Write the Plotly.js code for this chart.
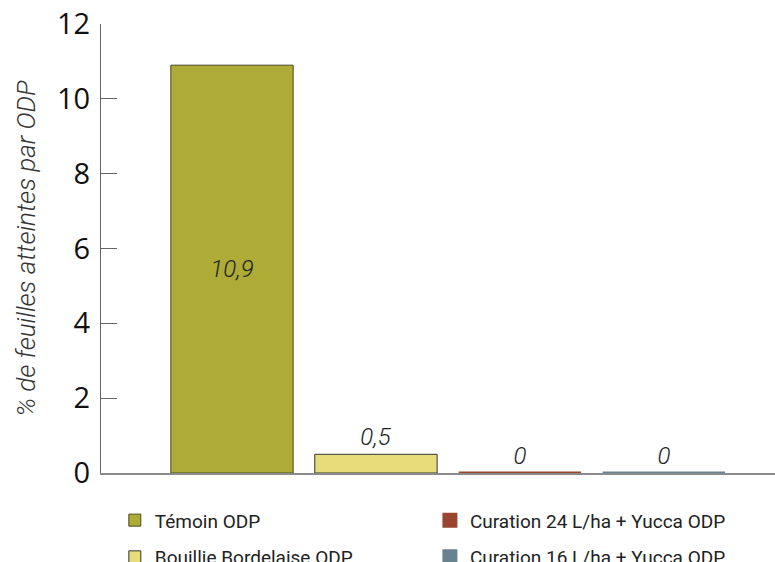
<!DOCTYPE html>
<html><head><meta charset="utf-8">
<script src="https://cdn.plot.ly/plotly-3.0.1.min.js"></script>
<style>html,body{margin:0;padding:0;background:#fff}</style>
</head><body>
<div id="chart" style="width:775px;height:562px"></div>
<script>
const categories = ["Témoin ODP", "Bouillie Bordelaise ODP", "Curation 24 L/ha + Yucca ODP", "Curation 16 L/ha + Yucca ODP"];
const values = [10.9, 0.5, 0, 0];
const colors = ["#aeab37", "#e6dc7a", "#9a4530", "#68838f"];
const lineColors = ["#4a4a28", "#333333", "#9a4530", "#68838f"];
const legendIds = ["legend", "legend", "legend2", "legend2"];

const traces = categories.map((c, i) => ({
  type: "bar",
  name: c,
  x: [c],
  y: [values[i]],
  text: [String(values[i]).replace(".", ",")],
  textposition: i === 0 ? "inside" : "outside",
  insidetextanchor: "middle",
  textfont: {family: "Roboto", size: 24, color: "#222", style: "italic", weight: 300},
  outsidetextfont: {family: "Roboto", size: 24, color: "#222", style: "italic", weight: 300},
  cliponaxis: false,
  width: 0.85,
  marker: {color: colors[i], line: {color: lineColors[i], width: values[i] === 0 ? 3 : 1}},
  legend: legendIds[i],
  legendgroup: "g" + i,
  hoverinfo: "none"
}));

const legendCommon = {
  orientation: "v",
  xanchor: "left", yanchor: "top",
  font: {family: "Roboto", size: 19, color: "#222"},
  tracegroupgap: 9,
  bgcolor: "rgba(0,0,0,0)"
};

const layout = {
  width: 775, height: 562,
  margin: {l: 101, r: 0, t: 24, b: 89, autoexpand: false},
  paper_bgcolor: "#fff", plot_bgcolor: "#fff",
  barmode: "group",
  bargap: 0,
  showlegend: true,
  legend: Object.assign({}, legendCommon, {x: 0.0205, y: -0.063}),
  legend2: Object.assign({}, legendCommon, {x: 0.488, y: -0.063}),
  xaxis: {
    type: "category",
    categoryarray: categories,
    range: [-0.91, 3.772],
    showticklabels: false,
    ticks: "",
    showgrid: false,
    zeroline: false,
    showline: true, linecolor: "#8a8a8a", linewidth: 1.5,
    fixedrange: true
  },
  yaxis: {
    range: [0, 12],
    dtick: 2,
    tick0: 0,
    ticks: "inside", ticklen: 16, tickwidth: 1, tickcolor: "#666",
    showgrid: false, zeroline: false,
    showline: true, linecolor: "#666", linewidth: 1,
    tickfont: {family: "Open Sans", size: 29, color: "#111"},
    ticklabelstandoff: 4,
    title: {text: "% de feuilles atteintes par ODP", font: {family: "Roboto", size: 26, color: "#333", style: "italic", weight: 300}, standoff: 13},
    fixedrange: true
  },
  font: {family: "Roboto"}
};

Plotly.newPlot("chart", traces, layout, {displayModeBar: false, staticPlot: true});
</script>
</body></html>
